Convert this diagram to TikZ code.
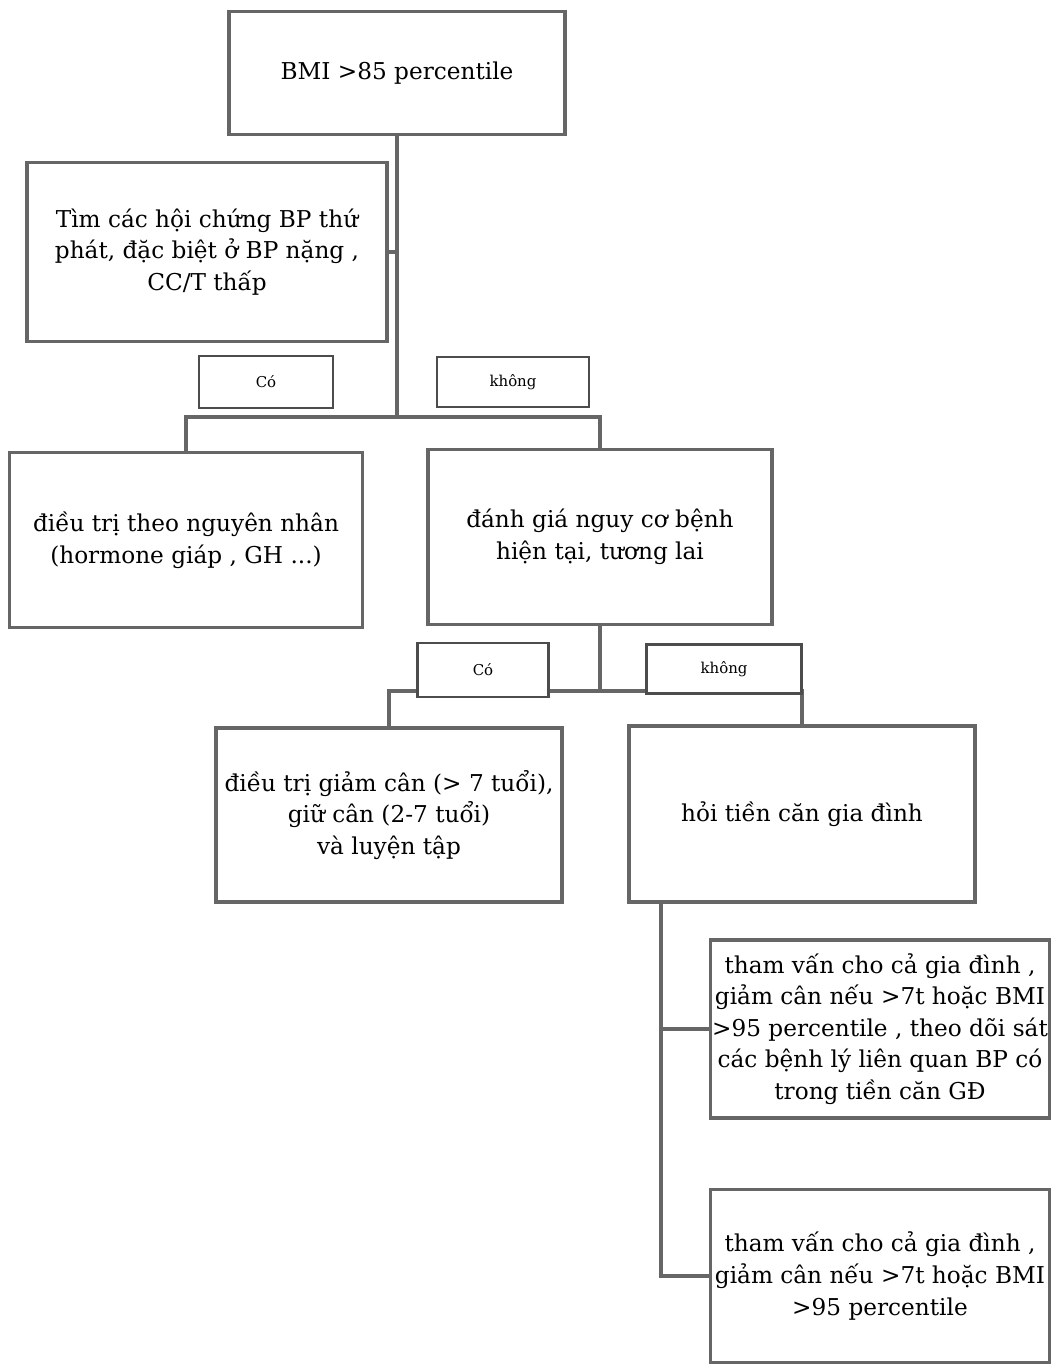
\documentclass[tikz,border=0pt]{standalone}
\usepackage{fontspec}
\setmainfont{DejaVu Serif}
\usepackage{tikz}
\tikzset{
    every node/.style={font=\fontsize{13.2}{18}\selectfont},
    box/.style={draw=black!60, line width=2pt, fill=white, align=center, inner xsep=0pt, inner ysep=2pt},
    tag/.style={draw=black!70, line width=1.2pt, fill=white, font=\fontsize{8.5}{10}\selectfont},
    link/.style={draw=black!60, line width=2pt}
}

\begin{document}
\begin{tikzpicture}[x=0.2mm, y=-0.2mm]
    \useasboundingbox (0,0) rectangle (1054,1366);

    % Draw the boxes
    \node[box, minimum width=6.72cm, minimum height=2.46cm] (bmi) at (397,73) {BMI >85 percentile};
    \node[box, minimum width=7.2cm, minimum height=3.58cm] (tim) at (207,252) {Tìm các hội chứng BP thứ\\phát, đặc biệt ở BP nặng ,\\CC/T thấp};
    \node[box, minimum width=7.06cm, minimum height=3.5cm] (nn) at (186,540) {điều trị theo nguyên nhân\\(hormone giáp , GH ...)};
    \node[box, minimum width=6.88cm, minimum height=3.5cm] (dg) at (600,537) {đánh giá nguy cơ bệnh\\hiện tại, tương lai};
    \node[box, minimum width=6.92cm, minimum height=3.48cm] (gc) at (389,815) {điều trị giảm cân (> 7 tuổi),\\giữ cân (2-7 tuổi)\\và luyện tập};
    \node[box, minimum width=6.92cm, minimum height=3.52cm] (ts) at (802,814) {hỏi tiền căn gia đình};
    \node[box, minimum width=6.78cm, minimum height=3.56cm] (tv1) at (880,1029) {tham vấn cho cả gia đình ,\\giảm cân nếu >7t hoặc BMI\\>95 percentile , theo dõi sát\\các bệnh lý liên quan BP có\\trong tiền căn GĐ};
    \node[box, minimum width=6.78cm, minimum height=3.46cm] (tv2) at (880,1276) {tham vấn cho cả gia đình ,\\giảm cân nếu >7t hoặc BMI\\>95 percentile};

    % Draw the joints
    \coordinate (j1) at (397,417);
    \coordinate (j2) at (600,691);

    % Draw the connectors
    \draw[link] (bmi.south) -- (j1);
    \draw[link] (tim.east) -- (tim.east -| j1);
    \draw[link] (nn.north) |- (j1) -| (dg.north);
    \draw[link] (dg.south) -- (j2);
    \draw[link] (gc.north) |- (j2) -| (ts.north);
    \draw[link] ([xshift=6.8mm]ts.south west) |- (tv2.west);
    \draw[link] (tv1.west) -| ([xshift=6.8mm]ts.south west);

    % Yes / no tags
    \node[tag, minimum width=2.68cm, minimum height=1.04cm] (co1) at (266,382) {Có};
    \node[tag, minimum width=3.04cm, minimum height=1cm] (khong1) at (513,382) {không};
    \node[tag, minimum width=2.62cm, minimum height=1.08cm] (co2) at (483,670) {Có};
    \node[tag, minimum width=3.1cm, minimum height=0.98cm] (khong2) at (724,669) {không};
\end{tikzpicture}
\end{document}
